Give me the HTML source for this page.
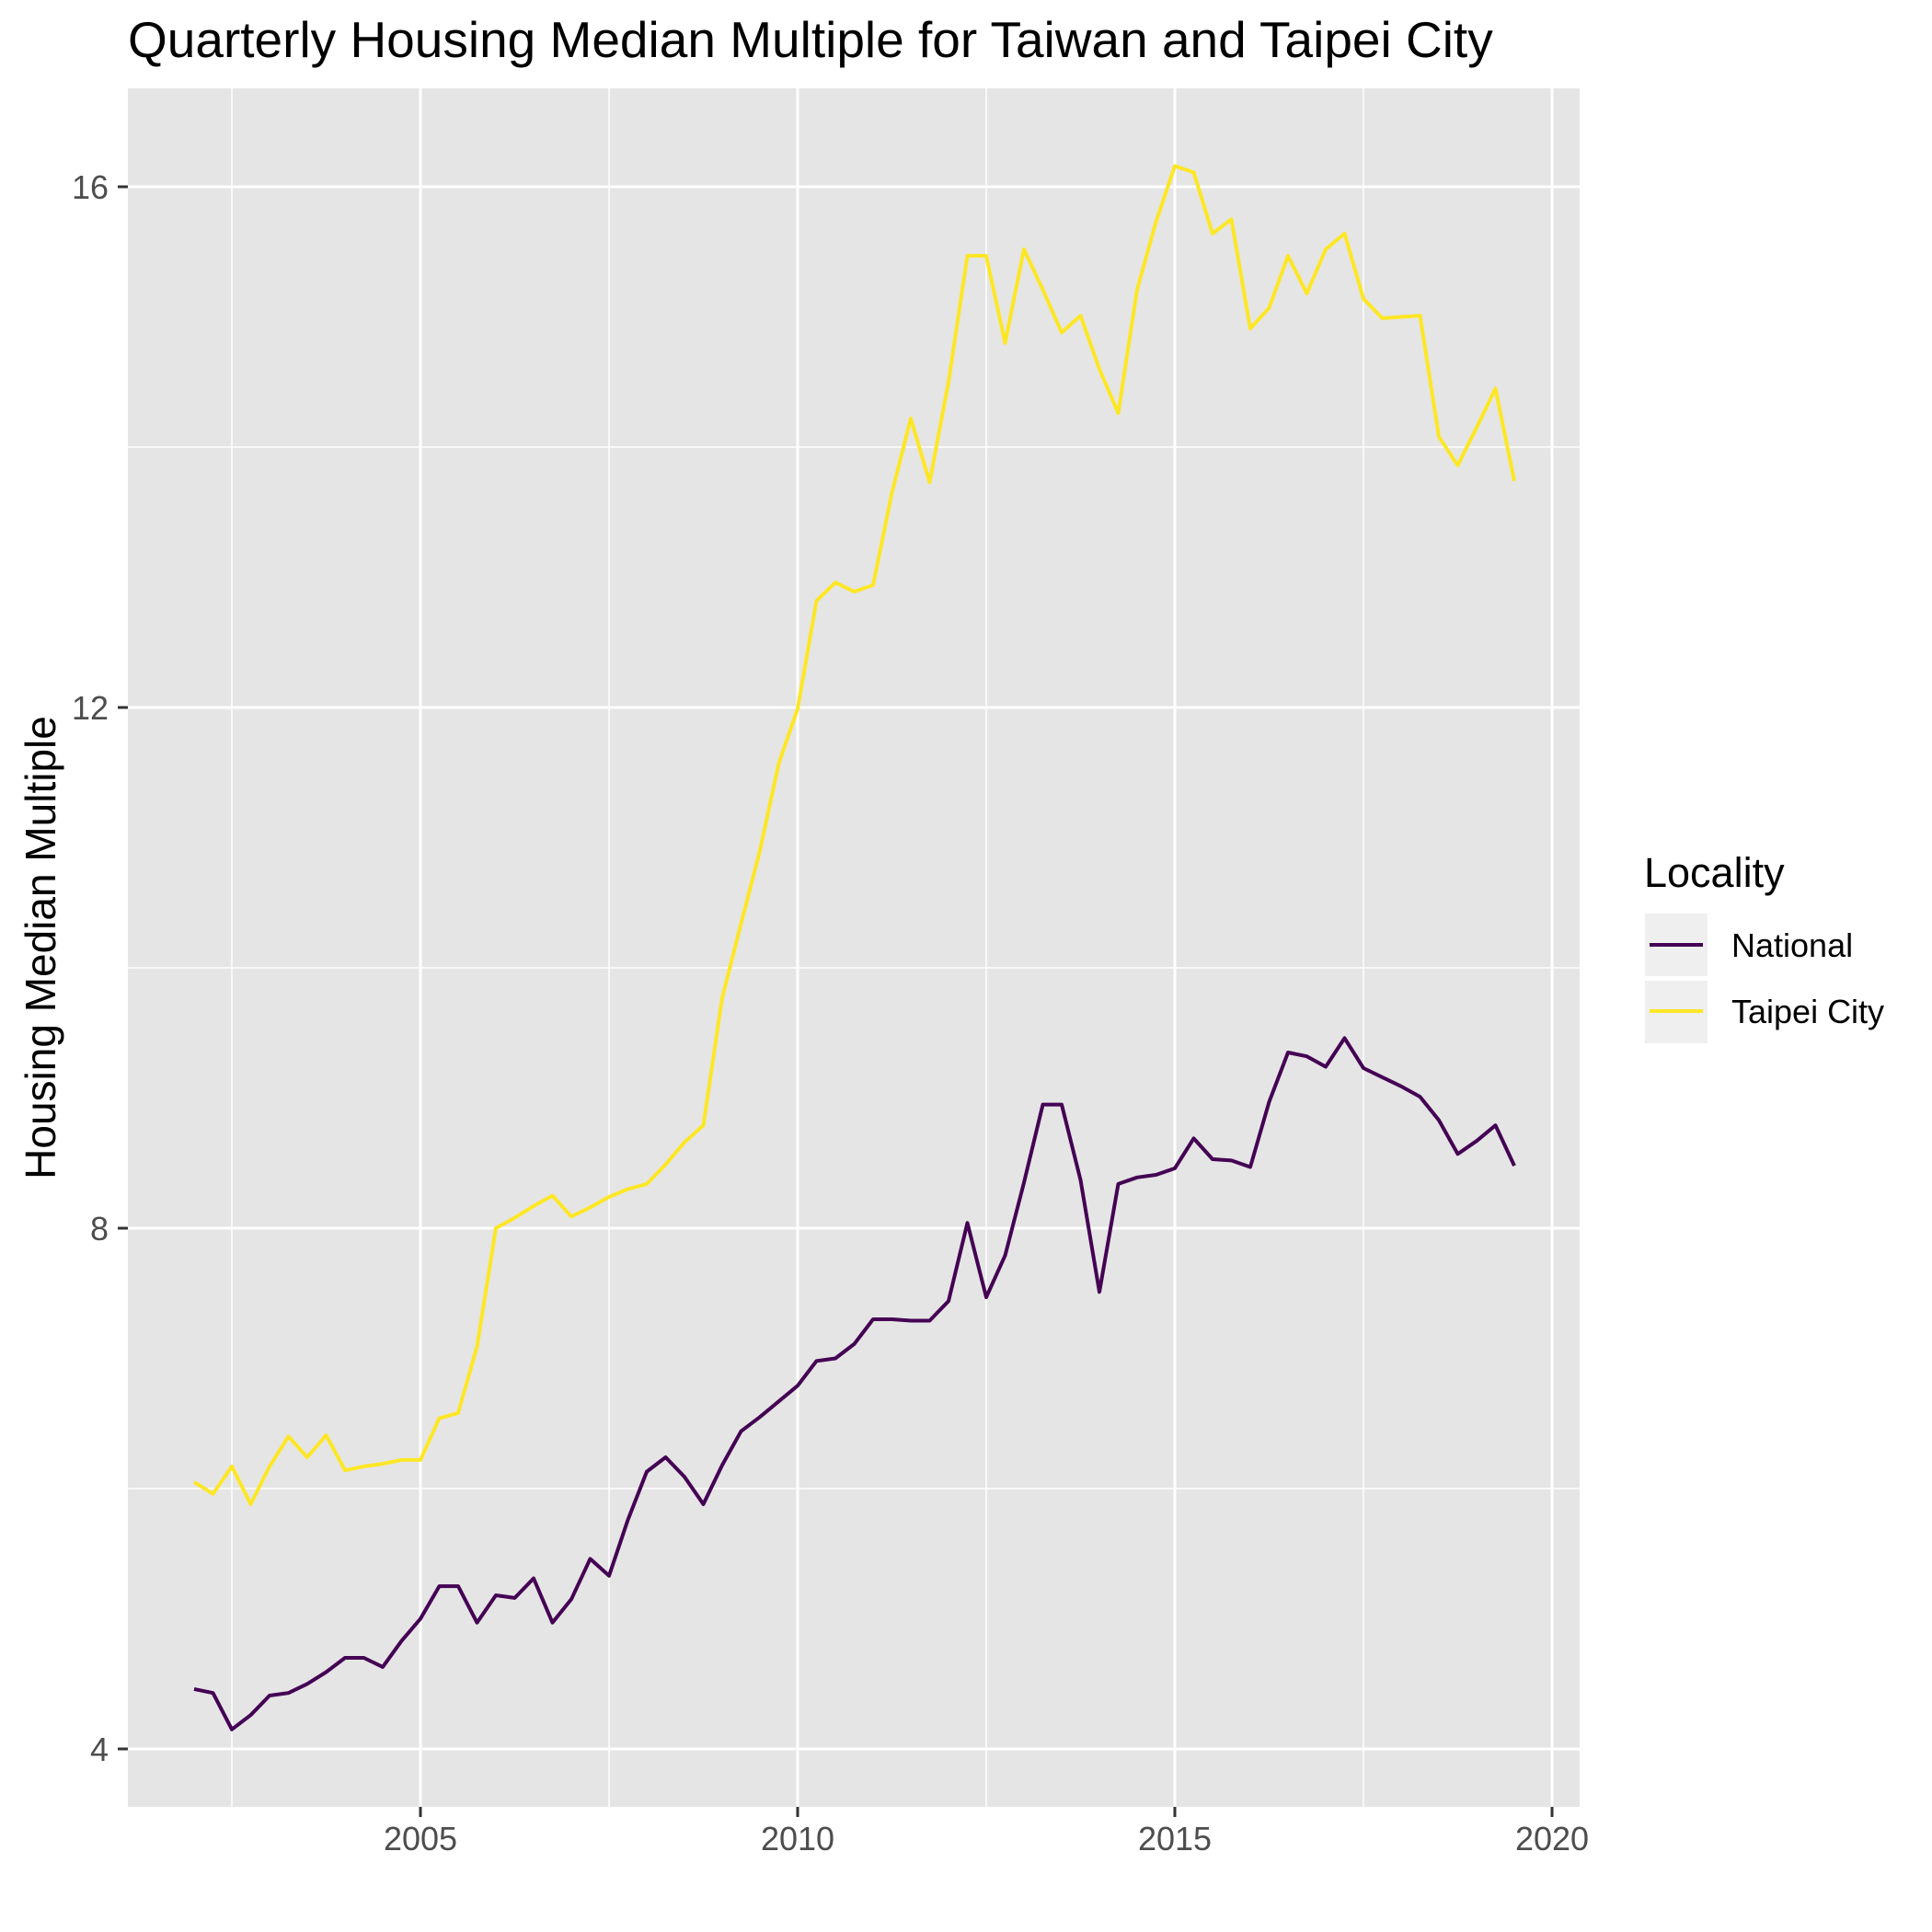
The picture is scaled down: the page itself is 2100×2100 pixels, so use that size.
<!DOCTYPE html>
<html><head><meta charset="utf-8"><style>
html,body{margin:0;padding:0;background:#fff}
svg{display:block;font-family:"Liberation Sans",Arial,sans-serif}
</style></head><body>
<svg id="chart" width="2100" height="2100" viewBox="0 0 2100 2100">
<text x="139" y="62" font-size="55" fill="#000">Quarterly Housing Median Multiple for Taiwan and Taipei City</text>
<rect x="139" y="96" width="1578" height="1868" fill="#e5e5e5"/>
<g id="grid"></g>
<g id="series"></g>
<g id="axes"></g>
<text transform="translate(60,1030) rotate(-90)" text-anchor="middle" font-size="46" fill="#000">Housing Median Multiple</text>
<g>
<text x="1787" y="964" font-size="45" fill="#000">Locality</text>
<g>
<rect x="1788" y="993" width="68" height="68" fill="#efefef"/>
<line x1="1793" y1="1027" x2="1851" y2="1027" stroke="#440154" stroke-width="4"/>
<text x="1882" y="1040" font-size="36" fill="#000">National</text>
</g>
<g>
<rect x="1788" y="1066" width="68" height="68" fill="#efefef"/>
<line x1="1793" y1="1099" x2="1851" y2="1099" stroke="#FDE725" stroke-width="4"/>
<text x="1882" y="1112" font-size="36" fill="#000">Taipei City</text>
</g>
</g>
</svg>
<script>
const startYear = 2002;
const xTicks = [2005, 2010, 2015, 2020];
const xMinor = [2002.5, 2007.5, 2012.5, 2017.5];
const yTicks = [4, 8, 12, 16];
const yMinor = [6, 10, 14];
const taipei = [6.05,5.96,6.17,5.88,6.17,6.40,6.24,6.41,6.14,6.17,6.19,6.22,6.22,6.54,6.58,7.09,8.00,8.08,8.17,8.25,8.09,8.16,8.24,8.30,8.34,8.49,8.66,8.79,9.77,10.34,10.90,11.57,11.99,12.82,12.96,12.89,12.94,13.65,14.22,13.73,14.50,15.47,15.47,14.80,15.52,15.21,14.88,15.01,14.60,14.26,15.21,15.73,16.16,16.11,15.64,15.75,14.91,15.07,15.47,15.18,15.52,15.64,15.14,14.99,15.00,15.01,14.08,13.86,14.15,14.45,13.74];
const national = [4.46,4.43,4.15,4.26,4.41,4.43,4.50,4.59,4.70,4.70,4.63,4.83,5.00,5.25,5.25,4.97,5.18,5.16,5.31,4.97,5.15,5.46,5.33,5.76,6.13,6.24,6.09,5.88,6.18,6.44,6.55,6.67,6.79,6.98,7.00,7.11,7.30,7.30,7.29,7.29,7.44,8.04,7.47,7.79,8.35,8.95,8.95,8.37,7.51,8.34,8.39,8.41,8.46,8.69,8.53,8.52,8.47,8.97,9.35,9.32,9.24,9.46,9.23,9.16,9.09,9.01,8.83,8.57,8.67,8.79,8.48];

const NS = "http://www.w3.org/2000/svg";
const X = yr => 457 + (yr - 2005) * 82.0;
const Y = v => 1901 - (v - 4) * 141.5;
const L = 139, R = 1717, T = 96, B = 1964;
function mk(tag, attrs, parent) {
  const e = document.createElementNS(NS, tag);
  for (const k in attrs) e.setAttribute(k, attrs[k]);
  parent.appendChild(e);
  return e;
}
const grid = document.getElementById('grid');
const axes = document.getElementById('axes');
const series = document.getElementById('series');
yMinor.forEach(v => {
  const l = mk('line', {x1: L, x2: R, y1: Y(v), y2: Y(v), stroke: '#fff', 'stroke-width': 1.5}, grid);
  
  
});
xMinor.forEach(v => {
  const l = mk('line', {x1: X(v), x2: X(v), y1: T, y2: B, stroke: '#fff', 'stroke-width': 1.5}, grid);
  
  
});
yTicks.forEach(v => {
  const l = mk('line', {x1: L, x2: R, y1: Y(v), y2: Y(v), stroke: '#fff', 'stroke-width': 3}, grid);
  
  
  const t = mk('line', {x1: L - 11, x2: L, y1: Y(v), y2: Y(v), stroke: '#333', 'stroke-width': 3}, axes);
  
  
  const tx = mk('text', {x: L - 21, y: Y(v) + 13, 'text-anchor': 'end', 'font-size': 36, fill: '#4d4d4d'}, axes);
  tx.textContent = v;
  
  
});
xTicks.forEach(v => {
  const l = mk('line', {x1: X(v), x2: X(v), y1: T, y2: B, stroke: '#fff', 'stroke-width': 3}, grid);
  
  
  const t = mk('line', {x1: X(v), x2: X(v), y1: B, y2: B + 11, stroke: '#333', 'stroke-width': 3}, axes);
  
  
  const tx = mk('text', {x: X(v), y: B + 47, 'text-anchor': 'middle', 'font-size': 36, fill: '#4d4d4d'}, axes);
  tx.textContent = v;
  
  
});
function draw(vals, color, name) {
  const pts = vals.map((v, i) => X(startYear + i * 0.25).toFixed(1) + ',' + Y(v).toFixed(1)).join(' ');
  const p = mk('polyline', {points: pts, fill: 'none', stroke: color, 'stroke-width': 4, 'stroke-linejoin': 'round'}, series);
  
  
}
draw(taipei, '#FDE725', 'taipei-city-line');
draw(national, '#440154', 'national-line');
</script>
</body></html>
